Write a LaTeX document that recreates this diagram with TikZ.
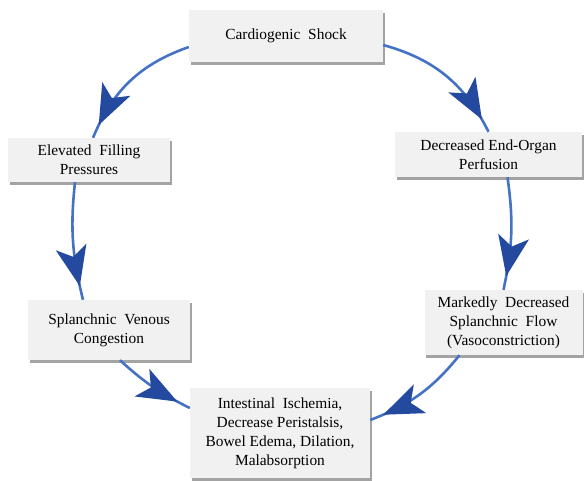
\documentclass[tikz,border=0pt]{standalone}
\usepackage{fontspec}
\setmainfont{Liberation Serif}
\usetikzlibrary{arrows.meta,shadows,decorations.markings,calc}
\definecolor{lineblue}{RGB}{68,114,196}
\definecolor{headblue}{RGB}{36,74,160}
\definecolor{boxfill}{RGB}{241,241,241}
\begin{document}
\begin{tikzpicture}[x=1pt,y=-1pt,
  box/.style={rectangle, fill=boxfill, draw=none, inner sep=2pt, align=center,
    font=\fontsize{15.4}{19}\selectfont,
    drop shadow={shadow xshift=1.5pt, shadow yshift=-3pt, opacity=0.6, fill=black!60}},
  conn/.style={draw=lineblue, line width=2.6pt, postaction={decorate},
    decoration={markings, mark=at position -14pt with {\arrow{Stealth[length=40pt,width=31pt,inset=10pt,color=headblue]}}}}]
\useasboundingbox (0,0) rectangle (584,480);
\node[box, minimum width=194pt, minimum height=52pt] (cs) at (286,36) {Cardiogenic\ \ Shock};
\node[box, minimum width=162pt, minimum height=44pt] (efp) at (89,160) {Elevated\ \ Filling\\Pressures};
\node[box, minimum width=187pt, minimum height=45pt] (deop) at (488.5,154.5) {Decreased End-Organ\\Perfusion};
\node[box, minimum width=162pt, minimum height=60pt] (svc) at (109,330) {Splanchnic\ \ Venous\\Congestion};
\node[box, minimum width=158pt, minimum height=65pt] (mdsf) at (503.5,322.5) {Markedly\ \ Decreased\\Splanchnic\ \ Flow\\(Vasoconstriction)};
\node[box, minimum width=180pt, minimum height=90pt] (ii) at (280,433) {Intestinal\ \ Ischemia,\\Decrease Peristalsis,\\Bowel Edema, Dilation,\\Malabsorption};
\draw[conn] ([yshift=-11pt]cs.west) to[bend right=24] ([xshift=4pt]efp.north);
\draw[conn] ([yshift=-9pt]cs.east) to[bend left=24] (deop.north);
\draw[conn] ([xshift=19pt]deop.south) to[bend left=10] (mdsf.north);
\draw[conn] ([xshift=-14pt]efp.south) to[bend right=10] ([xshift=-26pt]svc.north);
\draw[conn] ([xshift=11pt]svc.south) to[bend right=8] ([yshift=25pt]ii.west);
\draw[conn] ([xshift=-44pt]mdsf.south) to[bend left=15] ([yshift=13pt]ii.east);
\end{tikzpicture}
\end{document}
